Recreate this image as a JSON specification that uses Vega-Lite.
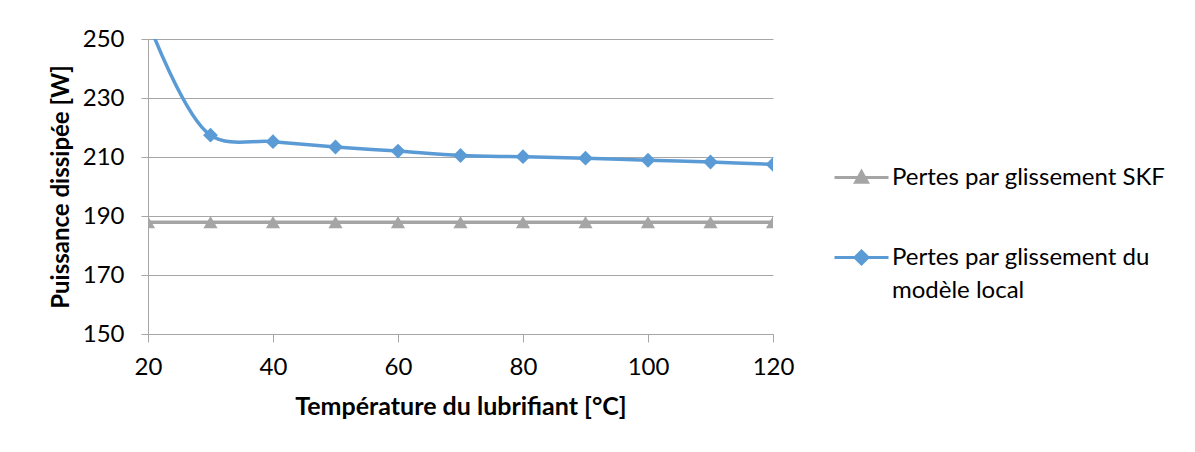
{
  "$schema": "https://vega.github.io/schema/vega-lite/v6.json",
  "width": 625,
  "height": 295,
  "autosize": {"type": "none"},
  "padding": {"left": 148, "top": 39, "right": 422, "bottom": 118},
  "background": "white",
  "config": {"view": {"stroke": null}, "font": "Lato"},
  "data": {
    "values": [
      {"T": 20, "serie": "Pertes par glissement SKF", "P": 187.9},
      {"T": 30, "serie": "Pertes par glissement SKF", "P": 187.9},
      {"T": 40, "serie": "Pertes par glissement SKF", "P": 187.9},
      {"T": 50, "serie": "Pertes par glissement SKF", "P": 187.9},
      {"T": 60, "serie": "Pertes par glissement SKF", "P": 187.9},
      {"T": 70, "serie": "Pertes par glissement SKF", "P": 187.9},
      {"T": 80, "serie": "Pertes par glissement SKF", "P": 187.9},
      {"T": 90, "serie": "Pertes par glissement SKF", "P": 187.9},
      {"T": 100, "serie": "Pertes par glissement SKF", "P": 187.9},
      {"T": 110, "serie": "Pertes par glissement SKF", "P": 187.9},
      {"T": 120, "serie": "Pertes par glissement SKF", "P": 187.9},
      {"T": 20, "serie": "Pertes par glissement du modèle local", "P": 256},
      {"T": 30, "serie": "Pertes par glissement du modèle local", "P": 217.4},
      {"T": 40, "serie": "Pertes par glissement du modèle local", "P": 215.2},
      {"T": 50, "serie": "Pertes par glissement du modèle local", "P": 213.4},
      {"T": 60, "serie": "Pertes par glissement du modèle local", "P": 212.0},
      {"T": 70, "serie": "Pertes par glissement du modèle local", "P": 210.5},
      {"T": 80, "serie": "Pertes par glissement du modèle local", "P": 210.1},
      {"T": 90, "serie": "Pertes par glissement du modèle local", "P": 209.6},
      {"T": 100, "serie": "Pertes par glissement du modèle local", "P": 208.9},
      {"T": 110, "serie": "Pertes par glissement du modèle local", "P": 208.3},
      {"T": 120, "serie": "Pertes par glissement du modèle local", "P": 207.5}
    ]
  },
  "encoding": {
    "x": {
      "field": "T",
      "type": "quantitative",
      "scale": {"domain": [20, 120], "nice": false, "zero": false},
      "axis": {
        "values": [20, 40, 60, 80, 100, 120],
        "title": "Température du lubrifiant [°C]",
        "grid": false,
        "domainColor": "#A6A6A6",
        "tickColor": "#A6A6A6",
        "tickSize": 8,
        "labelFontSize": 24,
        "labelColor": "black",
        "labelPadding": 13,
        "labelFlush": false,
        "titleFontSize": 25,
        "titleFontWeight": "bold",
        "titleColor": "black",
        "titlePadding": 15
      }
    },
    "y": {
      "field": "P",
      "type": "quantitative",
      "scale": {"domain": [150, 250], "nice": false, "zero": false},
      "axis": {
        "values": [150, 170, 190, 210, 230, 250],
        "title": "Puissance dissipée [W]",
        "grid": true,
        "gridColor": "#A6A6A6",
        "domainColor": "#A6A6A6",
        "tickColor": "#A6A6A6",
        "tickSize": 7,
        "labelFontSize": 24,
        "labelColor": "black",
        "labelPadding": 17,
        "labelFlush": false,
        "titleFontSize": 24,
        "titleFontWeight": "bold",
        "titleColor": "black",
        "titlePadding": 9
      }
    },
    "color": {
      "field": "serie",
      "type": "nominal",
      "scale": {
        "domain": ["Pertes par glissement SKF", "Pertes par glissement du modèle local"],
        "range": ["#A5A5A5", "#5B9BD5"]
      },
      "legend": {
        "title": null,
        "orient": "none",
        "legendX": 685,
        "legendY": 110,
        "labelFontSize": 24,
        "labelColor": "black",
        "labelLimit": 500,
        "labelOffset": 2,
        "rowPadding": 39,
        "symbolSize": 2916,
        "labelExpr": "datum.label == 'Pertes par glissement du modèle local' ? ['Pertes par glissement du', 'modèle local'] : datum.label",
        "encode": {
          "symbols": {
            "update": {
              "shape": {"signal": "datum.value == 'Pertes par glissement SKF' ? 'M-1,0H1M-0.22,0.18L0,-0.22L0.22,0.18Z' : 'M-1,0H1M-0.24,0L0,-0.24L0.24,0L0,0.24Z'"},
              "fill": {"signal": "datum.value == 'Pertes par glissement SKF' ? '#A5A5A5' : '#5B9BD5'"},
              "stroke": {"signal": "datum.value == 'Pertes par glissement SKF' ? '#A5A5A5' : '#5B9BD5'"},
              "strokeWidth": {"value": 3},
              "opacity": {"value": 1},
              "size": {"value": 2916}
            }
          },
          "labels": {
            "update": {
              "lineHeight": {"value": 33}
            }
          }
        }
      }
    }
  },
  "layer": [
    {
      "mark": {"type": "line", "interpolate": "catmull-rom", "strokeWidth": 3.5, "clip": true}
    },
    {
      "transform": [{"filter": "datum.serie == 'Pertes par glissement SKF'"}],
      "mark": {"type": "point", "filled": true, "opacity": 1, "clip": true, "shape": "triangle-up", "size": 200}
    },
    {
      "transform": [{"filter": "datum.serie == 'Pertes par glissement du modèle local'"}],
      "mark": {"type": "point", "filled": true, "opacity": 1, "clip": true, "shape": "diamond", "size": 220}
    }
  ]
}
